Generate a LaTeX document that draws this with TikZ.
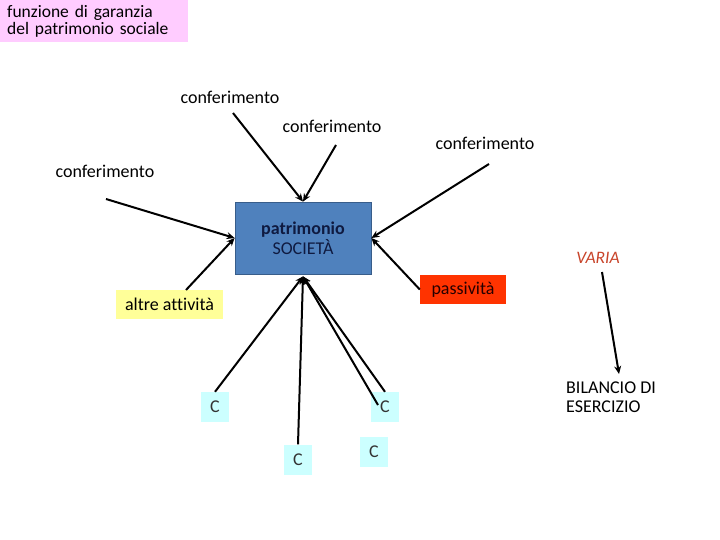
\documentclass[tikz,border=0pt]{standalone}
\usepackage{fontspec}
\setmainfont{Carlito}[Ligatures={NoCommon}]
\usetikzlibrary{arrows.meta}
\definecolor{pinkbg}{HTML}{FFCCFF}
\definecolor{bluebg}{HTML}{4F81BD}
\definecolor{blueline}{HTML}{385D8A}
\definecolor{navytext}{HTML}{0F1A40}
\definecolor{yellowbg}{HTML}{FFFF99}
\definecolor{redbg}{HTML}{FF3300}
\definecolor{cyanbg}{HTML}{CCFFFF}
\definecolor{variacol}{HTML}{C8442A}
\begin{document}
\begin{tikzpicture}[x=1pt,y=-1pt,
  txt/.style={inner sep=0pt, font=\fontsize{18}{18}\selectfont},
  arr/.style={-{Stealth[length=8pt,width=7pt]}, line width=2pt, black},
  cbox/.style={fill=cyanbg, minimum width=28pt, minimum height=30pt, inner sep=0pt,
    text=black!80, font=\fontsize{18}{18}\selectfont}]
\useasboundingbox (0,0) rectangle (720,540);
% title
\node[fill=pinkbg, anchor=north west, minimum height=42pt, text width=180pt,
  inner xsep=4pt, inner ysep=0pt, align=left,
  font=\fontsize{17.5}{17}\selectfont] (title) at (0,0)
  {\hspace*{3pt}funzione di garanzia\\\hspace*{3pt}del patrimonio sociale};
% central box
\node[fill=bluebg, draw=blueline, line width=0.8pt, minimum width=136pt, minimum height=72pt,
  inner sep=0pt, align=center, text=navytext, font=\fontsize{18}{20}\selectfont] (soc) at (303,238)
  {\textbf{patrimonio}\\SOCIETÀ};
% labels
\node[txt] (c1) at (230,97) {conferimento};
\node[txt] (c2) at (332,126) {conferimento};
\node[txt] (c3) at (485,143) {conferimento};
\node[txt] (c4) at (105,171) {conferimento};
\node[fill=yellowbg, minimum width=107pt, minimum height=29pt, inner sep=0pt,
  font=\fontsize{18}{18}\selectfont] (alt) at (169.5,304.5) {altre attività};
\node[fill=redbg, minimum width=86pt, minimum height=29pt, inner sep=0pt,
  text=black!85!red, font=\fontsize{18}{18}\selectfont] (pas) at (463,289.5) {passività};
\node[txt, text=variacol, font=\fontsize{17.5}{17.5}\selectfont\itshape] (varia) at (598,258) {VARIA};
\node[txt, anchor=west, align=left, font=\fontsize{18}{19}\selectfont] (bil) at (566,397)
  {BILANCIO DI\\ESERCIZIO};
% C boxes
\node[cbox] (k1) at (215,407) {C};
\node[cbox] (k2) at (298,459.5) {C};
\node[cbox] (k3) at (385,407) {C};
\node[cbox] (k4) at (374,452) {C};
% start coordinates
\coordinate (s1) at (233,113);
\coordinate (s2) at (336,145);
\coordinate (s3) at (489,164);
\coordinate (s4) at (106,199);
\coordinate (s5) at (186,290);
\coordinate (s6) at (378,405);
\coordinate (sv) at (602,272);
\coordinate (ev) at (619,374);
% arrows
\draw[arr] (s1) -- (soc.north);
\draw[arr] (s2) -- (soc.north);
\draw[arr] (s3) -- (soc.east);
\draw[arr] (pas.west) -- (soc.east);
\draw[arr] (s4) -- (soc.west);
\draw[arr] (s5) -- (soc.west);
\draw[arr] (k1.north) -- ([yshift=-2pt]soc.south);
\draw[arr] (k2.north) -- ([yshift=-2pt]soc.south);
\draw[arr] (k3.north) -- ([yshift=-2pt]soc.south);
\draw[arr] (s6) -- ([yshift=-2pt]soc.south);
\draw[arr] (sv) -- (ev);
\end{tikzpicture}
\end{document}
